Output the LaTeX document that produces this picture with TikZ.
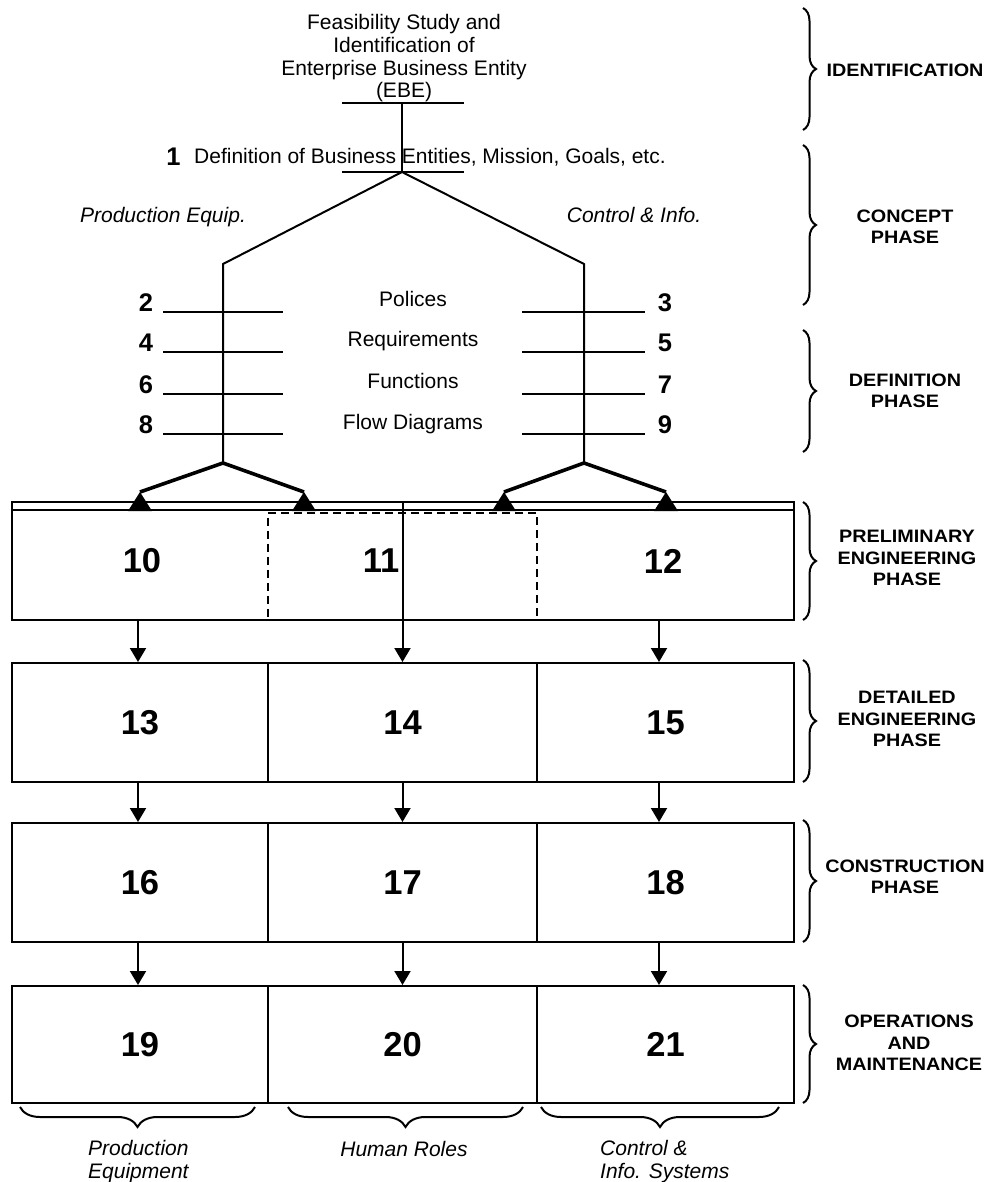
\documentclass[tikz,border=0pt]{standalone}
\usepackage{fontspec}
\setmainfont{Liberation Sans}
\newfontfamily\phasefont[FakeStretch=1.1]{Liberation Sans}
\usetikzlibrary{decorations.pathreplacing, arrows.meta, calc}

\begin{document}
\begin{tikzpicture}[x=1pt,y=-1pt,
  txt/.style={inner sep=0pt, font=\fontsize{21}{22.7}\selectfont},
  itxt/.style={inner sep=0pt, font=\fontsize{21}{22.7}\selectfont\itshape},
  num/.style={inner sep=0pt, font=\fontsize{25.5}{27}\selectfont\bfseries},
  bignum/.style={font=\fontsize{34.5}{37}\selectfont\bfseries},
  phase/.style={inner sep=0pt, align=center, font=\phasefont\bfseries\fontsize{18}{21.5}\selectfont},
  thinline/.style={line width=2pt},
  rung/.style={line width=2.3pt},
  heavy/.style={line width=3.6pt},
  cell/.style={draw, line width=2pt, inner sep=0pt, bignum},
  arr/.style={line width=2pt, -{Triangle[length=14pt,width=16pt]}},
  rbrace/.style={line width=2pt, decorate, decoration={brace, amplitude=13pt}},
  bbrace/.style={line width=2pt, decorate, decoration={brace, amplitude=20pt}},
]
\useasboundingbox (0,0) rectangle (991,1182);

% ---------- top: identification ----------
\node[txt, align=center, anchor=north] (feas) at (404,14.2)
  {Feasibility Study and\\Identification of\\Enterprise Business Entity\\(EBE)};
\coordinate (e1) at (402,103);
\coordinate (d1) at (402,172);
\draw[rung] (342,103) -- (464,103);
\draw[thinline] (e1) -- (d1);
\draw[rung] (342,172) -- (464,172);

\node[num] (n1) at (173.5,157) {1};
\node[txt, anchor=base west] (def) at (194,164)
  {Definition of Business Entities, Mission, Goals, etc.};

\node[itxt, anchor=base] (pe) at (163,223) {Production Equip.};
\node[itxt, anchor=base] (ci) at (634,223) {Control \& Info.};

% ---------- branches ----------
\coordinate (L0) at (223,264);
\coordinate (L1) at (223,463);
\coordinate (R0) at (584,264);
\coordinate (R1) at (584,463);
\draw[thinline] (L1) -- (L0) -- (d1) -- (R0) -- (R1);

\foreach \y/\l/\r/\lab/\by in {312/2/3/Polices/306, 352/4/5/Requirements/346,
    394/6/7/Functions/388, 434/8/9/Flow Diagrams/429} {
  \draw[rung] (163,\y) -- (283,\y);
  \draw[rung] (522,\y) -- (645,\y);
  \node[num, anchor=base] (n\l) at (146,\y-1) {\l};
  \node[num, anchor=base] (n\r) at (665,\y-1) {\r};
  \node[txt, anchor=base] (lab\l) at (413,\by) {\lab};
}

% ---------- preliminary engineering ----------
\node[draw, line width=2pt, minimum width=782pt, minimum height=118pt, inner sep=0pt]
  (pre) at (403,561) {};
\draw[thinline] ($(pre.north west)+(0,9)$) -- ($(pre.north east)+(0,9)$);
\node[draw, line width=2pt, dash pattern=on 8pt off 5pt, minimum width=269pt,
  minimum height=107pt, inner sep=0pt] (d11) at (402.5,566) {};
\node[bignum, inner sep=0pt] (n10) at (142,561) {10};
\node[bignum, inner sep=0pt] (n11) at (381,561) {11};
\node[bignum, inner sep=0pt] (n12) at (663,561) {12};

\coordinate (a10) at (140,492);
\coordinate (a11l) at (304,492);
\coordinate (a11r) at (504,492);
\coordinate (a12) at (666,492);
\draw[heavy, line join=miter] (a10) -- (L1) -- (a11l);
\draw[heavy, line join=miter] (a11r) -- (R1) -- (a12);
\foreach \c in {a10,a11l,a11r,a12}
  \fill (\c) -- ++(-12,19) -- ++(24,0) -- cycle;

% ---------- rows ----------
\node[cell, minimum width=256pt, minimum height=119pt] (b13) at (140,722.5) {13};
\node[cell, minimum width=269pt, minimum height=119pt] (b14) at (402.5,722.5) {14};
\node[cell, minimum width=257pt, minimum height=119pt] (b15) at (665.5,722.5) {15};
\node[cell, minimum width=256pt, minimum height=119pt] (b16) at (140,882.5) {16};
\node[cell, minimum width=269pt, minimum height=119pt] (b17) at (402.5,882.5) {17};
\node[cell, minimum width=257pt, minimum height=119pt] (b18) at (665.5,882.5) {18};
\node[cell, minimum width=256pt, minimum height=117pt] (b19) at (140,1044.5) {19};
\node[cell, minimum width=269pt, minimum height=117pt] (b20) at (402.5,1044.5) {20};
\node[cell, minimum width=257pt, minimum height=117pt] (b21) at (665.5,1044.5) {21};

\draw[thinline] (pre.north -| b14.north) -- (pre.south -| b14.north);

\coordinate (c1) at (138,0);
\coordinate (c2) at (402.5,0);
\coordinate (c3) at (659,0);
\draw[arr] (pre.south -| c1) -- (b13.north -| c1);
\draw[arr] (pre.south -| c2) -- (b14.north -| c2);
\draw[arr] (pre.south -| c3) -- (b15.north -| c3);
\draw[arr] (b13.south -| c1) -- (b16.north -| c1);
\draw[arr] (b14.south -| c2) -- (b17.north -| c2);
\draw[arr] (b15.south -| c3) -- (b18.north -| c3);
\draw[arr] (b16.south -| c1) -- (b19.north -| c1);
\draw[arr] (b17.south -| c2) -- (b20.north -| c2);
\draw[arr] (b18.south -| c3) -- (b21.north -| c3);

% ---------- right braces and phase labels ----------
\draw[rbrace] (803,8) -- (803,130);
\node[phase] (ph1) at (905,70) {IDENTIFICATION};
\draw[rbrace] (803,145) -- (803,305);
\node[phase] (ph2) at (905,227) {CONCEPT\\PHASE};
\draw[rbrace] (803,330) -- (803,452);
\node[phase] (ph3) at (905,391) {DEFINITION\\PHASE};
\draw[rbrace] (803,502) -- (803,620);
\node[phase] (ph4) at (907,558) {PRELIMINARY\\ENGINEERING\\PHASE};
\draw[rbrace] (803,660) -- (803,782);
\node[phase] (ph5) at (907,719) {DETAILED\\ENGINEERING\\PHASE};
\draw[rbrace] (803,820) -- (803,942);
\node[phase] (ph6) at (905,877) {CONSTRUCTION\\PHASE};
\draw[rbrace] (803,985) -- (803,1103);
\node[phase] (ph7) at (909,1043) {OPERATIONS\\AND\\MAINTENANCE};

% ---------- bottom braces and labels ----------
\draw[bbrace] (255,1107) -- (20,1107);
\draw[bbrace] (523,1107) -- (288,1107);
\draw[bbrace] (779,1107) -- (541,1107);
\node[itxt, align=left, anchor=north west] (bl1) at (88,1140) {Production\\Equipment};
\node[itxt, anchor=base] (bl2) at (404,1156) {Human Roles};
\node[itxt, align=left, anchor=north west] (bl3) at (600,1140) {Control \&\\Info. Systems};
\end{tikzpicture}
\end{document}
